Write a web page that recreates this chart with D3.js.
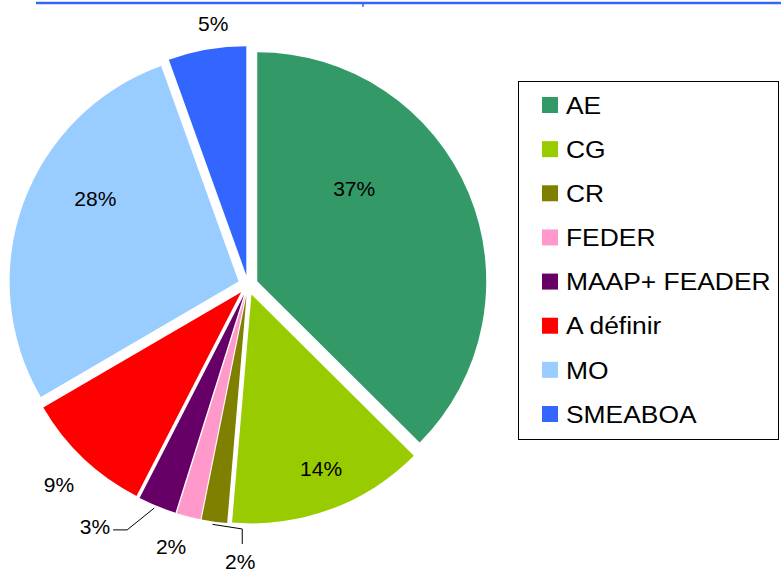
<!DOCTYPE html>
<html>
<head>
<meta charset="utf-8">
<script src="https://cdn.jsdelivr.net/npm/d3@7"></script>
<style>
  body { margin: 0; background: #fff; }
  svg text { font-family: "Liberation Sans", Arial, sans-serif; fill: #000; }
</style>
</head>
<body>
<div id="chart"></div>
<script>
// Chart data
var categories = ['AE', 'CG', 'CR', 'FEDER', 'MAAP+ FEADER', 'A définir', 'MO', 'SMEABOA'];
var values = [37.45, 13.9, 1.8, 1.7, 2.7, 9.05, 27.91, 5.49];
var colors = ['#339966', '#99CC00', '#808000', '#FF99CC', '#660066', '#FF0000', '#99CCFF', '#3366FF'];

// Label layout: angle nudge from slice bisector (deg), radius factor, leader type
var labelLayout = [
  {nudge: -19.5, k: 0.625},
  {nudge: -1.5, k: 0.865},
  {nudge: -6.5, k: 1.21, leader: 'below'},
  {nudge: 2, k: 1.19},
  {nudge: 10, k: 1.25, leader: 'side'},
  {nudge: 0, k: 1.2},
  {nudge: 9.5, k: 0.766},
  {nudge: 2.3, k: 1.153}
];

var width = 781, height = 569,
    cx = 248, cy = 285, radius = 229, explode = 10;

var svg = d3.select('#chart').append('svg')
    .attr('width', width)
    .attr('height', height);

// top rule
svg.append('line')
    .attr('x1', 36).attr('x2', width).attr('y1', 3).attr('y2', 3)
    .attr('stroke', '#3366FF').attr('stroke-width', 2.5);
svg.append('line')
    .attr('x1', 363).attr('x2', 363).attr('y1', 3).attr('y2', 7)
    .attr('stroke', '#3366FF').attr('stroke-width', 1.5);

var pie = d3.pie().sort(null).value(function(d) { return d; });
var arcs = pie(values);
var total = d3.sum(values);
var arc = d3.arc().innerRadius(0).outerRadius(radius);

function polar(angle, dist) {
  return [cx + dist * Math.sin(angle), cy - dist * Math.cos(angle)];
}

var g = svg.append('g');
g.selectAll('path.slice').data(arcs)
  .enter().append('path')
    .attr('class', 'slice')
    .attr('d', arc)
    .attr('fill', function(d, i) { return colors[i]; })
    .attr('transform', function(d) {
      var mid = (d.startAngle + d.endAngle) / 2;
      return 'translate(' + (cx + explode * Math.sin(mid)) + ',' +
          (cy - explode * Math.cos(mid)) + ')';
    });

// percentage labels
var toRad = Math.PI / 180;
arcs.forEach(function(d, i) {
  var lay = labelLayout[i],
      mid = (d.startAngle + d.endAngle) / 2,
      p = polar(mid + lay.nudge * toRad, radius * lay.k);
  var t = svg.append('text')
      .attr('x', p[0]).attr('y', p[1])
      .attr('dy', '0.35em')
      .attr('text-anchor', 'middle')
      .style('font-size', '21px')
      .text(Math.round(d.value / total * 100) + '%');

  if (lay.leader) {
    var w = t.node().getComputedTextLength(),
        start = polar(d.startAngle + (d.endAngle - d.startAngle) * 0.55, radius + explode + 3),
        pts;
    if (lay.leader === 'side') {
      var end = [p[0] + w / 2 + 3, p[1] + 3];
      pts = [start, [end[0] + 14, end[1]], end];
    } else {
      var endB = [p[0] + 2, p[1] - 18];
      pts = [start, [endB[0], endB[1] - 15], endB];
    }
    svg.append('path')
        .attr('d', d3.line()(pts))
        .attr('fill', 'none')
        .attr('stroke', '#000')
        .attr('stroke-width', 1);
  }
});

// legend
var legend = svg.append('g').attr('transform', 'translate(518,81)');
legend.append('rect')
    .attr('x', 0.5).attr('y', 0.5)
    .attr('width', 260).attr('height', 358)
    .attr('fill', '#fff')
    .attr('stroke', '#000').attr('stroke-width', 1);

var rowY = d3.scalePoint().domain(categories).range([24, 333]);
var items = legend.selectAll('g.item').data(categories)
  .enter().append('g')
    .attr('class', 'item')
    .attr('transform', function(d) { return 'translate(0,' + rowY(d) + ')'; });
items.append('rect')
    .attr('x', 24).attr('y', -8)
    .attr('width', 16).attr('height', 16)
    .attr('fill', function(d, i) { return colors[i]; });
// text in the reference is a bit wider than Liberation Sans, stretch it
items.append('text')
    .attr('transform', 'translate(48,0) scale(1.1,1)')
    .attr('dy', '0.36em')
    .style('font-size', '24px')
    .text(function(d) { return d; });
</script>
</body>
</html>
